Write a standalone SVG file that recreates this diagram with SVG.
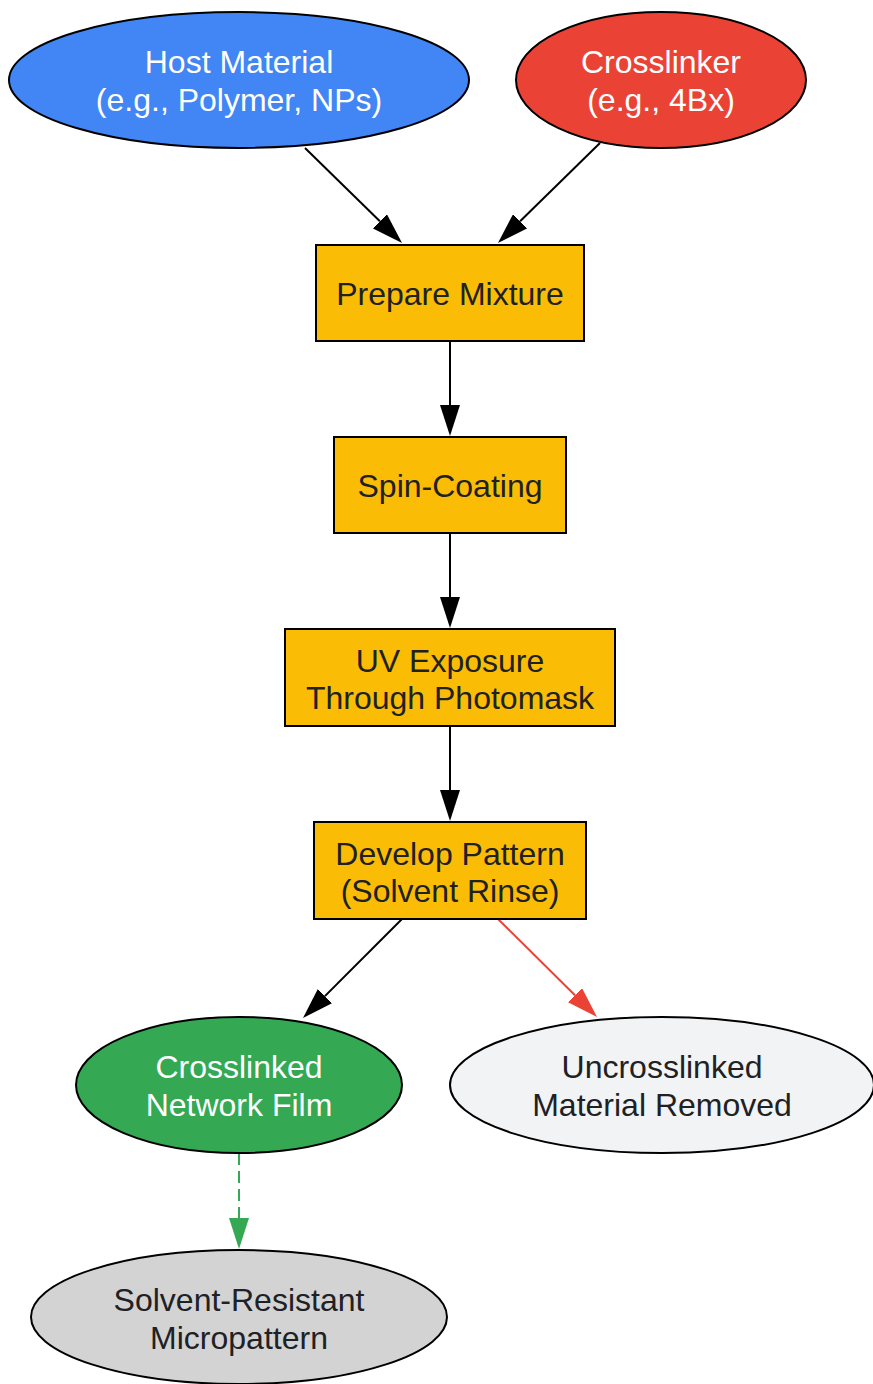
<svg xmlns="http://www.w3.org/2000/svg" width="873" height="1384" viewBox="0 0 873 1384">
<style>
text{font-family:"Liberation Sans",Arial,sans-serif;font-size:32px;text-anchor:middle}
.dk{fill:#202124}
.wt{fill:#ffffff}
.sh{stroke:#000;stroke-width:2}
.e{fill:none;stroke:#000;stroke-width:2}
</style>
<defs>
<marker id="ah" viewBox="0 0 31 20" refX="0" refY="10" markerWidth="31" markerHeight="20" markerUnits="userSpaceOnUse" orient="auto"><path d="M0,0 L31,10 L0,20 z" fill="#000"/></marker>
<marker id="ahr" viewBox="0 0 31 20" refX="0" refY="10" markerWidth="31" markerHeight="20" markerUnits="userSpaceOnUse" orient="auto"><path d="M0,0 L31,10 L0,20 z" fill="#EA4335"/></marker>
<marker id="ahg" viewBox="0 0 31 20" refX="0" refY="10" markerWidth="31" markerHeight="20" markerUnits="userSpaceOnUse" orient="auto"><path d="M0,0 L31,10 L0,20 z" fill="#34A853"/></marker>
</defs>
<g id="connectors">
<line class="e" x1="305" y1="148" x2="379.9" y2="221.3" marker-end="url(#ah)"/>
<line class="e" x1="600" y1="143" x2="520.1" y2="221.3" marker-end="url(#ah)"/>
<line class="e" x1="450" y1="341" x2="450" y2="405" marker-end="url(#ah)"/>
<line class="e" x1="450" y1="533" x2="450" y2="597" marker-end="url(#ah)"/>
<line class="e" x1="450" y1="726" x2="450" y2="790" marker-end="url(#ah)"/>
<line class="e" x1="402" y1="919" x2="324.9" y2="996.1" marker-end="url(#ah)"/>
<line class="e" x1="498" y1="919" x2="575" y2="995.2" style="stroke:#EA4335" marker-end="url(#ahr)"/>
<line class="e" x1="239" y1="1153" x2="239" y2="1218" style="stroke:#34A853" stroke-dasharray="12,6" marker-end="url(#ahg)"/>
</g>
<g id="host">
<ellipse class="sh" cx="239" cy="80" rx="230" ry="68" fill="#4285F4"/>
<text class="wt" x="239" y="73">Host Material</text>
<text class="wt" x="239" y="111">(e.g., Polymer, NPs)</text>
</g>
<g id="crosslinker">
<ellipse class="sh" cx="661" cy="80" rx="145" ry="68" fill="#EA4335"/>
<text class="wt" x="661" y="73">Crosslinker</text>
<text class="wt" x="661" y="111">(e.g., 4Bx)</text>
</g>
<g id="prepare">
<rect class="sh" x="316" y="245" width="268" height="96" fill="#FBBC05"/>
<text class="dk" x="450" y="305">Prepare Mixture</text>
</g>
<g id="spin">
<rect class="sh" x="334" y="437" width="232" height="96" fill="#FBBC05"/>
<text class="dk" x="450" y="497">Spin-Coating</text>
</g>
<g id="uv">
<rect class="sh" x="285" y="629" width="330" height="97" fill="#FBBC05"/>
<text class="dk" x="450" y="672">UV Exposure</text>
<text class="dk" x="450" y="709">Through Photomask</text>
</g>
<g id="develop">
<rect class="sh" x="314" y="822" width="272" height="97" fill="#FBBC05"/>
<text class="dk" x="450" y="865">Develop Pattern</text>
<text class="dk" x="450" y="902">(Solvent Rinse)</text>
</g>
<g id="crosslinked">
<ellipse class="sh" cx="239" cy="1085" rx="163" ry="68" fill="#34A853"/>
<text class="wt" x="239" y="1078">Crosslinked</text>
<text class="wt" x="239" y="1116">Network Film</text>
</g>
<g id="uncrosslinked">
<ellipse class="sh" cx="662" cy="1085" rx="212" ry="68" fill="#F1F3F4"/>
<text class="dk" x="662" y="1078">Uncrosslinked</text>
<text class="dk" x="662" y="1116">Material Removed</text>
</g>
<g id="resistant">
<ellipse class="sh" cx="239" cy="1317" rx="208" ry="67" fill="#D3D3D3"/>
<text class="dk" x="239" y="1311">Solvent-Resistant</text>
<text class="dk" x="239" y="1349">Micropattern</text>
</g>
</svg>
